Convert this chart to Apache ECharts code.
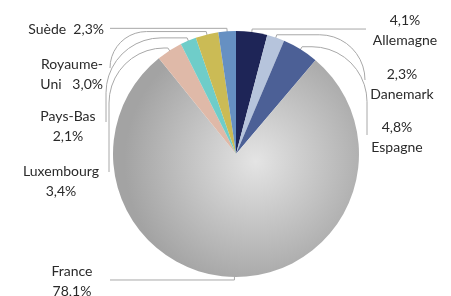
<!DOCTYPE html>
<html>
<head>
<meta charset="utf-8">
<script src="https://cdn.jsdelivr.net/npm/echarts@6/dist/echarts.min.js"></script>
<style>
  html, body { margin: 0; padding: 0; background: #fff; }
  #chart { width: 451px; height: 296px; }
</style>
</head>
<body>
<div id="chart"></div>
<script>
// clockwise from the top
const pays = ['Allemagne', 'Danemark', 'Espagne', 'France', 'Luxembourg', 'Pays-Bas', 'Royaume-Uni', 'Suède'];
const parts = [4.1, 2.3, 4.8, 78.1, 3.4, 2.1, 3.0, 2.3];

const couleurs = ['#1e2557', '#b6c4dc', '#4c6096', null, '#dfb9a8', '#6fcdc9', '#cbbb55', '#6690c2'];

const CX = 236, CY = 154, R = 123;

// label anchor + where its leader line ends (edge x, end y)
const labelPos = [
  { x: 405, y: 30, align: 'center', lx: 366, ly: null },
  { x: 402, y: 84, align: 'center', lx: 365, ly: 80 },
  { x: 397, y: 137, align: 'center', lx: 367, ly: 135 },
  { x: 72, y: 281, align: 'center', lx: 110, ly: null },
  { x: 61, y: 181, align: 'center', lx: 109, ly: 172 },
  { x: 68, y: 126, align: 'center', lx: 106, ly: 122 },
  { x: 103, y: 74, align: 'right', lx: 110, ly: 68 },
  { x: 104, y: 29, align: 'right', lx: 110, ly: null }
];

const pct = v => v.toFixed(1).replace('.', ',') + '%';
const labelText = i => {
  const n = pays[i], v = pct(parts[i]);
  if (i < 3) return v + '\n' + n;
  if (n === 'Suède') return n + '  ' + v;
  if (n === 'Royaume-Uni') return 'Royaume-\nUni   ' + v;
  return n + '\n' + v;
};

// leader: short tick out of the slice, then horizontal, rounded bend, vertical
function leader(edgePt, lx, ly) {
  const dx = edgePt[0] - CX, dy = edgePt[1] - CY;
  const d = Math.sqrt(dx * dx + dy * dy);
  const ux = dx / d, uy = dy / d;
  const s = [CX + ux * (R - 12), CY + uy * (R - 12)];
  const a = [CX + ux * (R + 3), CY + uy * (R + 3)];
  const pts = [s, a];
  if (ly == null) {
    pts.push([lx, a[1]]);
    return pts;
  }
  const sx = lx > a[0] ? 1 : -1;
  const h = Math.abs(lx - a[0]), v = Math.abs(ly - a[1]);
  const rr = Math.min(h, v, 55);
  const cornerX = lx - sx * rr;
  pts.push([cornerX, a[1]]);
  // quarter circle, centre (cornerX, a.y + rr)
  for (let k = 1; k <= 10; k++) {
    const t = (k / 10) * Math.PI / 2;
    pts.push([cornerX + sx * rr * Math.sin(t), a[1] + rr - rr * Math.cos(t)]);
  }
  pts.push([lx, ly]);
  return pts;
}

const franceGrad = {
  type: 'radial', x: 0.58, y: 0.47, r: 0.6,
  colorStops: [
    { offset: 0, color: '#e4e4e4' },
    { offset: 1, color: '#a3a3a3' }
  ]
};

const chart = echarts.init(document.getElementById('chart'));
chart.setOption({
  animation: false,
  series: [{
    type: 'pie',
    center: [CX, CY],
    radius: R,
    startAngle: 90,
    clockwise: true,
    minAngle: 0,
    avoidLabelOverlap: false,
    data: pays.map((n, i) => ({
      name: n,
      value: parts[i],
      itemStyle: { color: couleurs[i] || franceGrad }
    })),
    label: {
      show: true,
      position: 'outside',
      fontFamily: 'Lato',
      fontSize: 14,
      lineHeight: 20,
      color: '#2a2a2a',
      formatter: p => labelText(p.dataIndex)
    },
    labelLine: {
      show: true,
      showAbove: true,
      length: 10,
      length2: 20,
      lineStyle: { color: '#a8a8a8', width: 1 }
    },
    labelLayout: p => {
      const lp = labelPos[p.dataIndex];
      return {
        x: lp.x, y: lp.y, align: lp.align, verticalAlign: 'middle',
        labelLinePoints: leader(p.labelLinePoints[0], lp.lx, lp.ly)
      };
    }
  }]
});
</script>
</body>
</html>
